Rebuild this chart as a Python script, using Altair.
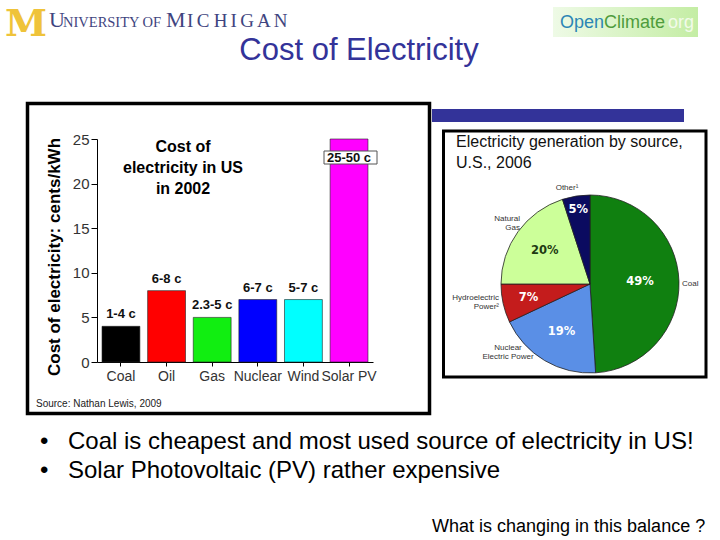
import altair as alt
import pandas as pd
import math

# ---------------- data ----------------
sources = ["Coal", "Oil", "Gas", "Nuclear", "Wind", "Solar PV"]
cost_cents = [4, 8, 5, 7, 7, 25]
cost_labels = ["1-4 c", "6-8 c", "2.3-5 c", "6-7 c", "5-7 c", "25-50 c"]
y_tick_values = [0, 2.5, 5, 7.5, 10, 12.5, 15, 17.5, 20, 22.5, 25]

gen_sources = ["Coal", "Nuclear Electric Power", "Hydroelectric Power", "Natural Gas", "Other"]
gen_share = [49, 19, 7, 20, 5]
gen_labels = ["49%", "19%", "7%", "20%", "5%"]

slide_title = "Cost of Electricity"
bar_title = "Cost of\nelectricity in US\nin 2002"
y_title = "Cost of electricity: cents/kWh"
source_note = "Source: Nathan Lewis, 2009"
pie_title = "Electricity generation by source,\nU.S., 2006"
bullet_lines = ["Coal is cheapest and most used source of electricity in US!",
                "Solar Photovoltaic (PV) rather expensive"]
question = "What is changing in this balance ?"

# ---------------- styles ----------------
bar_colors = ["#000000", "#FF0000", "#11EE11", "#0000FF", "#00FFFF", "#FF00FF"]
pie_colors = ["#108010", "#5A8FE6", "#C41C1C", "#CCFF99", "#0B0B60"]
NAVY = "#333399"
UM_BLUE = "#3F4580"
FONT = "Liberation Sans"

OX, OY = 97, 139          # plot-area origin on the slide
W, H = 276, 223           # plot-area size


def X(v):
    return alt.value(v - OX)


def Y(v):
    return alt.value(v - OY)


one = pd.DataFrame({"k": [0]})

bar_df = pd.DataFrame({"source": sources, "cost": cost_cents, "label": cost_labels})
pie_df = pd.DataFrame({"gen": gen_sources, "share": gen_share, "label": gen_labels})


def text(t, x, y, size, color="#000", align="left", weight="normal", baseline="alphabetic",
         font=FONT, angle=None, line_height=None):
    kw = dict(text=t, fontSize=size, color=color, align=align, fontWeight=weight,
              baseline=baseline, font=font)
    if angle is not None:
        kw["angle"] = angle
    if line_height is not None:
        kw["lineHeight"] = line_height
        kw["lineBreak"] = "\n"
    return alt.Chart(one).mark_text(**kw).encode(x=X(x), y=Y(y))


def box(x1, y1, x2, y2, fill=None, stroke=None, sw=0):
    kw = {}
    if fill is not None:
        kw["fill"] = fill
    else:
        kw["fillOpacity"] = 0
    if stroke is not None:
        kw["stroke"] = stroke
        kw["strokeWidth"] = sw
    return alt.Chart(one).mark_rect(**kw).encode(x=X(x1), x2=X(x2), y=Y(y1), y2=Y(y2))


layers = []

# ---- header ----
layers.append(text("M", 5, 36, 38, color="#EFC33A", weight="bold", font="DejaVu Serif"))
layers.append(text("U", 49, 27, 22, color=UM_BLUE, font="Liberation Serif"))
layers.append(text("NIVERSITY OF", 63, 27, 14.5, color=UM_BLUE, font="Liberation Serif"))
layers.append(text("M", 166, 27, 22, color=UM_BLUE, font="Liberation Serif"))
# slightly spaced small caps of the logo
ich_x = 187.0
for ch in "ICHIGAN":
    layers.append(text(ch, ich_x, 27, 19, color=UM_BLUE, font="Liberation Serif"))
    ich_x += (0.333 if ch == "I" else 0.70) * 19 + 3.5

grad = alt.LinearGradient(gradient="linear",
                          stops=[alt.GradientStop(color="#EEFAE6", offset=0),
                                 alt.GradientStop(color="#C4EDA4", offset=1)],
                          x1=0, x2=1, y1=0, y2=0)
layers.append(alt.Chart(one).mark_rect(fill=grad).encode(x=X(553), x2=X(698), y=Y(7), y2=Y(37)))
layers.append(text("Open", 560, 28, 18, color="#2B86B5"))
layers.append(text("Climate", 604, 28, 18, color="#4E9C3C"))
layers.append(text("org", 668, 28, 18, color="#F2FBEA"))

layers.append(text(slide_title, 359, 60, 31, color=NAVY, align="center"))

# ---- frames ----
layers.append(box(432, 109, 684, 122, fill=NAVY))
layers.append(box(27.5, 103.5, 429.5, 413.5, stroke="#000", sw=3.5))
layers.append(box(443.5, 131, 706, 377, stroke="#000", sw=3))

# ---- bar chart ----
bars = alt.Chart(bar_df).mark_bar(stroke="#222", strokeWidth=0.6).encode(
    x=alt.X("source:N", sort=sources,
            scale=alt.Scale(paddingInner=0.17, paddingOuter=0.11),
            axis=alt.Axis(title=None, labelAngle=0, labelFontSize=14, labelFont=FONT,
                          labelColor="#333", labelPadding=3, tickSize=4,
                          domainColor="#000", tickColor="#000")),
    y=alt.Y("cost:Q", scale=alt.Scale(domain=[0, 25], nice=False),
            axis=alt.Axis(title=None, values=y_tick_values, grid=False,
                          labelExpr="datum.value % 5 === 0 ? datum.label : ''",
                          tickSize={"condition": {"test": "datum.value % 5 === 0", "value": 6},
                                    "value": 3},
                          labelFontSize=15, labelFont=FONT, labelColor="#333",
                          labelPadding=2, domainColor="#000", tickColor="#000")),
    color=alt.Color("source:N", scale=alt.Scale(domain=sources, range=bar_colors), legend=None),
)
layers.append(bars)

bar_labels = alt.Chart(bar_df).transform_filter(alt.datum.source != "Solar PV").mark_text(
    baseline="bottom", dy=-5, fontSize=13, fontWeight="bold", font=FONT, color="#111"
).encode(x=alt.X("source:N", sort=sources), y="cost:Q", text="label:N")
layers.append(bar_labels)

layers.append(box(324, 151, 377, 164, fill="#FFFFFF", stroke="#555", sw=1))
solar_label = alt.Chart(bar_df).transform_filter(alt.datum.source == "Solar PV").mark_text(
    baseline="middle", dy=19, fontSize=13, fontWeight="bold", font=FONT, color="#111"
).encode(x=alt.X("source:N", sort=sources), y="cost:Q", text="label:N")
layers.append(solar_label)

layers.append(text(bar_title, 183, 147, 16, weight="bold", align="center",
                   baseline="middle", line_height=21))
layers.append(text(y_title, 55, 257, 17, weight="bold", align="center",
                   baseline="middle", angle=270))
layers.append(text(source_note, 36, 407, 10, color="#222"))

# ---- pie chart ----
CX, CY, R = 590, 284, 89
pie_base = alt.Chart(pie_df).transform_window(idx="row_number()")
pie = pie_base.mark_arc(outerRadius=R, stroke="#222", strokeWidth=0.8).encode(
    theta=alt.Theta("share:Q", stack=True),
    order=alt.Order("idx:Q"),
    color=alt.Color("gen:N", scale=alt.Scale(domain=gen_sources, range=pie_colors), legend=None),
    x=X(CX), y=Y(CY),
)
layers.append(pie)

pie_text = pie_base.transform_window(
    cum="sum(share)", sort=[alt.SortField("idx")], frame=[None, 0]
).transform_joinaggregate(
    total="sum(share)"
).transform_calculate(
    mid="(datum.cum - datum.share / 2) / datum.total",
    r="datum.gen == 'Other' ? 75 : datum.gen == 'Hydroelectric Power' ? 63 : datum.gen == 'Coal' ? 50 : 56",
).mark_text(fontSize=11.5, fontWeight="bold", font="DejaVu Sans", baseline="middle").encode(
    theta=alt.Theta("mid:Q", stack=None,
                    scale=alt.Scale(domain=[0, 1], range=[0, 2 * math.pi])),
    radius=alt.Radius("r:Q", scale=None),
    text="label:N",
    color=alt.condition(alt.datum.gen == "Natural Gas", alt.value("#1E3A12"), alt.value("#FFFFFF")),
    x=X(CX), y=Y(CY),
)
layers.append(pie_text)

layers.append(text(pie_title, 456, 142, 16, color="#111", baseline="middle", line_height=21))
layers.append(text("Other¹", 567, 188, 8, color="#333", align="center", baseline="middle"))
layers.append(text("Natural\nGas", 520, 219, 8, color="#333", align="right",
                   baseline="middle", line_height=9))
layers.append(text("Hydroelectric\nPower²", 499, 298, 8, color="#333", align="right",
                   baseline="middle", line_height=9))
layers.append(text("Nuclear\nElectric Power", 508, 348, 8, color="#333", align="center",
                   baseline="middle", line_height=9))
layers.append(text("Coal", 682, 284, 8, color="#333", baseline="middle"))

# ---- bullets ----
for i, line in enumerate(bullet_lines):
    yb = 448.5 + i * 29
    layers.append(text("•", 40, yb, 24))
    layers.append(text(line, 68, yb, 24))
layers.append(text(question, 432, 532, 18))

chart = alt.layer(*layers).resolve_scale(color="independent", theta="independent").properties(
    width=W, height=H,
    padding={"left": OX, "top": OY, "right": 720 - OX - W, "bottom": 540 - OY - H},
    autosize=alt.AutoSizeParams(type="none"),
    background="white",
).configure_view(stroke=None)

chart.save("out.html", embed_options={"renderer": "svg", "actions": False})
